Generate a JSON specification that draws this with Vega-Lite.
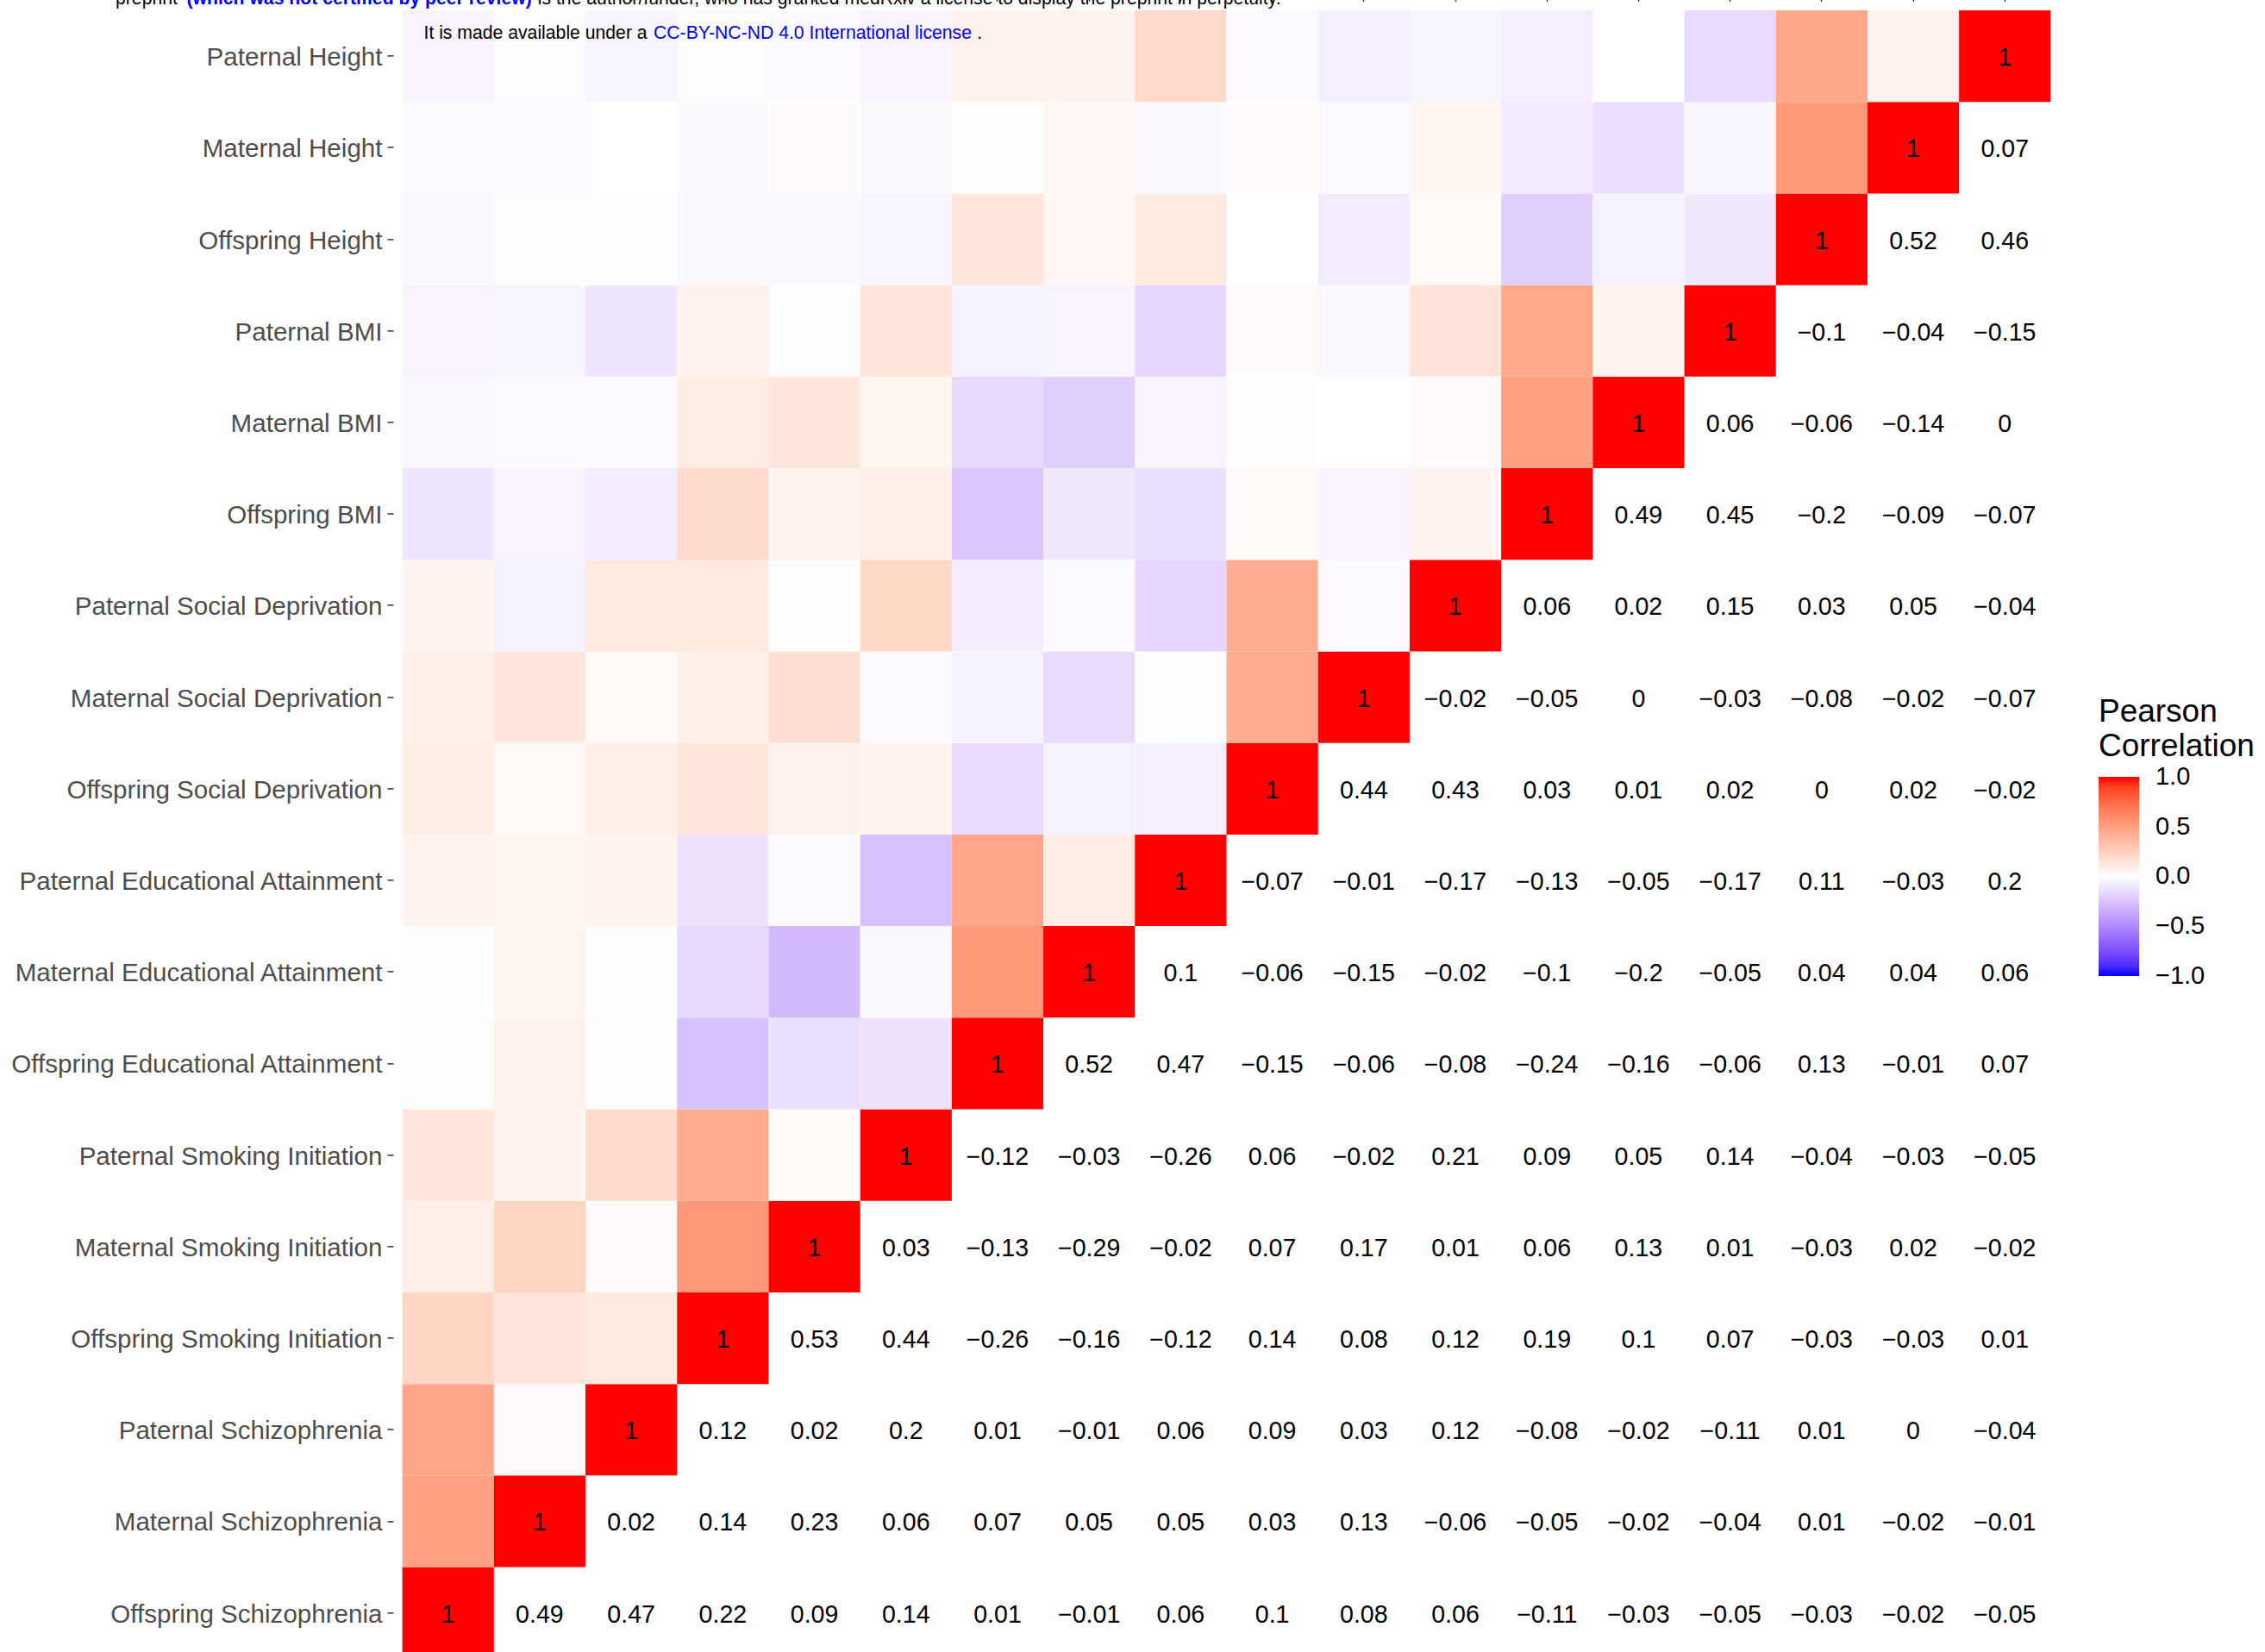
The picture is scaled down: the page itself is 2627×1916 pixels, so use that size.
{
  "$schema": "https://vega.github.io/schema/vega-lite/v6.json",
  "autosize": {"type": "none"},
  "width": 1933,
  "height": 1933,
  "padding": {"left": 456, "top": 1.4, "right": 238, "bottom": 0},
  "background": "white",
  "config": {"view": {"stroke": null}, "font": "Liberation Sans"},
  "title": {
    "text": "preprint \u00a0\u00a0\u00a0\u00a0\u00a0\u00a0\u00a0\u00a0\u00a0\u00a0\u00a0\u00a0\u00a0\u00a0\u00a0\u00a0\u00a0\u00a0\u00a0\u00a0\u00a0\u00a0\u00a0\u00a0\u00a0\u00a0\u00a0\u00a0\u00a0\u00a0\u00a0\u00a0\u00a0\u00a0\u00a0\u00a0\u00a0\u00a0\u00a0\u00a0\u00a0\u00a0\u00a0\u00a0\u00a0\u00a0\u00a0\u00a0\u00a0\u00a0\u00a0\u00a0\u00a0\u00a0\u00a0\u00a0\u00a0\u00a0\u00a0\u00a0\u00a0\u00a0\u00a0\u00a0\u00a0\u00a0\u00a0\u00a0\u00a0\u00a0is the author/funder, who has granted medRxiv a license to display the preprint in perpetuity.",
    "subtitle": "\u200b\u00a0\u00a0\u00a0\u00a0\u00a0\u00a0\u00a0\u00a0\u00a0\u00a0\u00a0\u00a0\u00a0\u00a0(which was not certified by peer review)",
    "anchor": "start",
    "frame": "group",
    "dx": -322,
    "dy": 16,
    "offset": 0,
    "font": "Liberation Sans",
    "fontSize": 21.2,
    "fontWeight": "normal",
    "color": "#000000",
    "subtitleFont": "Liberation Sans",
    "subtitleFontSize": 21.2,
    "subtitleFontWeight": "bold",
    "subtitleColor": "#0000FF",
    "subtitlePadding": -21.2
  },
  "data": {"values": [
    {"a": "Offspring Schizophrenia", "b": "Offspring Schizophrenia", "r": 1},
    {"a": "Offspring Schizophrenia", "b": "Maternal Schizophrenia", "r": 0.49},
    {"a": "Offspring Schizophrenia", "b": "Paternal Schizophrenia", "r": 0.47},
    {"a": "Offspring Schizophrenia", "b": "Offspring Smoking Initiation", "r": 0.22},
    {"a": "Offspring Schizophrenia", "b": "Maternal Smoking Initiation", "r": 0.09},
    {"a": "Offspring Schizophrenia", "b": "Paternal Smoking Initiation", "r": 0.14},
    {"a": "Offspring Schizophrenia", "b": "Offspring Educational Attainment", "r": 0.01},
    {"a": "Offspring Schizophrenia", "b": "Maternal Educational Attainment", "r": -0.01},
    {"a": "Offspring Schizophrenia", "b": "Paternal Educational Attainment", "r": 0.06},
    {"a": "Offspring Schizophrenia", "b": "Offspring Social Deprivation", "r": 0.1},
    {"a": "Offspring Schizophrenia", "b": "Maternal Social Deprivation", "r": 0.08},
    {"a": "Offspring Schizophrenia", "b": "Paternal Social Deprivation", "r": 0.06},
    {"a": "Offspring Schizophrenia", "b": "Offspring BMI", "r": -0.11},
    {"a": "Offspring Schizophrenia", "b": "Maternal BMI", "r": -0.03},
    {"a": "Offspring Schizophrenia", "b": "Paternal BMI", "r": -0.05},
    {"a": "Offspring Schizophrenia", "b": "Offspring Height", "r": -0.03},
    {"a": "Offspring Schizophrenia", "b": "Maternal Height", "r": -0.02},
    {"a": "Offspring Schizophrenia", "b": "Paternal Height", "r": -0.05},

    {"a": "Maternal Schizophrenia", "b": "Maternal Schizophrenia", "r": 1},
    {"a": "Maternal Schizophrenia", "b": "Paternal Schizophrenia", "r": 0.02},
    {"a": "Maternal Schizophrenia", "b": "Offspring Smoking Initiation", "r": 0.14},
    {"a": "Maternal Schizophrenia", "b": "Maternal Smoking Initiation", "r": 0.23},
    {"a": "Maternal Schizophrenia", "b": "Paternal Smoking Initiation", "r": 0.06},
    {"a": "Maternal Schizophrenia", "b": "Offspring Educational Attainment", "r": 0.07},
    {"a": "Maternal Schizophrenia", "b": "Maternal Educational Attainment", "r": 0.05},
    {"a": "Maternal Schizophrenia", "b": "Paternal Educational Attainment", "r": 0.05},
    {"a": "Maternal Schizophrenia", "b": "Offspring Social Deprivation", "r": 0.03},
    {"a": "Maternal Schizophrenia", "b": "Maternal Social Deprivation", "r": 0.13},
    {"a": "Maternal Schizophrenia", "b": "Paternal Social Deprivation", "r": -0.06},
    {"a": "Maternal Schizophrenia", "b": "Offspring BMI", "r": -0.05},
    {"a": "Maternal Schizophrenia", "b": "Maternal BMI", "r": -0.02},
    {"a": "Maternal Schizophrenia", "b": "Paternal BMI", "r": -0.04},
    {"a": "Maternal Schizophrenia", "b": "Offspring Height", "r": 0.01},
    {"a": "Maternal Schizophrenia", "b": "Maternal Height", "r": -0.02},
    {"a": "Maternal Schizophrenia", "b": "Paternal Height", "r": -0.01},

    {"a": "Paternal Schizophrenia", "b": "Paternal Schizophrenia", "r": 1},
    {"a": "Paternal Schizophrenia", "b": "Offspring Smoking Initiation", "r": 0.12},
    {"a": "Paternal Schizophrenia", "b": "Maternal Smoking Initiation", "r": 0.02},
    {"a": "Paternal Schizophrenia", "b": "Paternal Smoking Initiation", "r": 0.2},
    {"a": "Paternal Schizophrenia", "b": "Offspring Educational Attainment", "r": 0.01},
    {"a": "Paternal Schizophrenia", "b": "Maternal Educational Attainment", "r": -0.01},
    {"a": "Paternal Schizophrenia", "b": "Paternal Educational Attainment", "r": 0.06},
    {"a": "Paternal Schizophrenia", "b": "Offspring Social Deprivation", "r": 0.09},
    {"a": "Paternal Schizophrenia", "b": "Maternal Social Deprivation", "r": 0.03},
    {"a": "Paternal Schizophrenia", "b": "Paternal Social Deprivation", "r": 0.12},
    {"a": "Paternal Schizophrenia", "b": "Offspring BMI", "r": -0.08},
    {"a": "Paternal Schizophrenia", "b": "Maternal BMI", "r": -0.02},
    {"a": "Paternal Schizophrenia", "b": "Paternal BMI", "r": -0.11},
    {"a": "Paternal Schizophrenia", "b": "Offspring Height", "r": 0.01},
    {"a": "Paternal Schizophrenia", "b": "Maternal Height", "r": 0},
    {"a": "Paternal Schizophrenia", "b": "Paternal Height", "r": -0.04},

    {"a": "Offspring Smoking Initiation", "b": "Offspring Smoking Initiation", "r": 1},
    {"a": "Offspring Smoking Initiation", "b": "Maternal Smoking Initiation", "r": 0.53},
    {"a": "Offspring Smoking Initiation", "b": "Paternal Smoking Initiation", "r": 0.44},
    {"a": "Offspring Smoking Initiation", "b": "Offspring Educational Attainment", "r": -0.26},
    {"a": "Offspring Smoking Initiation", "b": "Maternal Educational Attainment", "r": -0.16},
    {"a": "Offspring Smoking Initiation", "b": "Paternal Educational Attainment", "r": -0.12},
    {"a": "Offspring Smoking Initiation", "b": "Offspring Social Deprivation", "r": 0.14},
    {"a": "Offspring Smoking Initiation", "b": "Maternal Social Deprivation", "r": 0.08},
    {"a": "Offspring Smoking Initiation", "b": "Paternal Social Deprivation", "r": 0.12},
    {"a": "Offspring Smoking Initiation", "b": "Offspring BMI", "r": 0.19},
    {"a": "Offspring Smoking Initiation", "b": "Maternal BMI", "r": 0.1},
    {"a": "Offspring Smoking Initiation", "b": "Paternal BMI", "r": 0.07},
    {"a": "Offspring Smoking Initiation", "b": "Offspring Height", "r": -0.03},
    {"a": "Offspring Smoking Initiation", "b": "Maternal Height", "r": -0.03},
    {"a": "Offspring Smoking Initiation", "b": "Paternal Height", "r": 0.01},

    {"a": "Maternal Smoking Initiation", "b": "Maternal Smoking Initiation", "r": 1},
    {"a": "Maternal Smoking Initiation", "b": "Paternal Smoking Initiation", "r": 0.03},
    {"a": "Maternal Smoking Initiation", "b": "Offspring Educational Attainment", "r": -0.13},
    {"a": "Maternal Smoking Initiation", "b": "Maternal Educational Attainment", "r": -0.29},
    {"a": "Maternal Smoking Initiation", "b": "Paternal Educational Attainment", "r": -0.02},
    {"a": "Maternal Smoking Initiation", "b": "Offspring Social Deprivation", "r": 0.07},
    {"a": "Maternal Smoking Initiation", "b": "Maternal Social Deprivation", "r": 0.17},
    {"a": "Maternal Smoking Initiation", "b": "Paternal Social Deprivation", "r": 0.01},
    {"a": "Maternal Smoking Initiation", "b": "Offspring BMI", "r": 0.06},
    {"a": "Maternal Smoking Initiation", "b": "Maternal BMI", "r": 0.13},
    {"a": "Maternal Smoking Initiation", "b": "Paternal BMI", "r": 0.01},
    {"a": "Maternal Smoking Initiation", "b": "Offspring Height", "r": -0.03},
    {"a": "Maternal Smoking Initiation", "b": "Maternal Height", "r": 0.02},
    {"a": "Maternal Smoking Initiation", "b": "Paternal Height", "r": -0.02},

    {"a": "Paternal Smoking Initiation", "b": "Paternal Smoking Initiation", "r": 1},
    {"a": "Paternal Smoking Initiation", "b": "Offspring Educational Attainment", "r": -0.12},
    {"a": "Paternal Smoking Initiation", "b": "Maternal Educational Attainment", "r": -0.03},
    {"a": "Paternal Smoking Initiation", "b": "Paternal Educational Attainment", "r": -0.26},
    {"a": "Paternal Smoking Initiation", "b": "Offspring Social Deprivation", "r": 0.06},
    {"a": "Paternal Smoking Initiation", "b": "Maternal Social Deprivation", "r": -0.02},
    {"a": "Paternal Smoking Initiation", "b": "Paternal Social Deprivation", "r": 0.21},
    {"a": "Paternal Smoking Initiation", "b": "Offspring BMI", "r": 0.09},
    {"a": "Paternal Smoking Initiation", "b": "Maternal BMI", "r": 0.05},
    {"a": "Paternal Smoking Initiation", "b": "Paternal BMI", "r": 0.14},
    {"a": "Paternal Smoking Initiation", "b": "Offspring Height", "r": -0.04},
    {"a": "Paternal Smoking Initiation", "b": "Maternal Height", "r": -0.03},
    {"a": "Paternal Smoking Initiation", "b": "Paternal Height", "r": -0.05},

    {"a": "Offspring Educational Attainment", "b": "Offspring Educational Attainment", "r": 1},
    {"a": "Offspring Educational Attainment", "b": "Maternal Educational Attainment", "r": 0.52},
    {"a": "Offspring Educational Attainment", "b": "Paternal Educational Attainment", "r": 0.47},
    {"a": "Offspring Educational Attainment", "b": "Offspring Social Deprivation", "r": -0.15},
    {"a": "Offspring Educational Attainment", "b": "Maternal Social Deprivation", "r": -0.06},
    {"a": "Offspring Educational Attainment", "b": "Paternal Social Deprivation", "r": -0.08},
    {"a": "Offspring Educational Attainment", "b": "Offspring BMI", "r": -0.24},
    {"a": "Offspring Educational Attainment", "b": "Maternal BMI", "r": -0.16},
    {"a": "Offspring Educational Attainment", "b": "Paternal BMI", "r": -0.06},
    {"a": "Offspring Educational Attainment", "b": "Offspring Height", "r": 0.13},
    {"a": "Offspring Educational Attainment", "b": "Maternal Height", "r": -0.01},
    {"a": "Offspring Educational Attainment", "b": "Paternal Height", "r": 0.07},

    {"a": "Maternal Educational Attainment", "b": "Maternal Educational Attainment", "r": 1},
    {"a": "Maternal Educational Attainment", "b": "Paternal Educational Attainment", "r": 0.1},
    {"a": "Maternal Educational Attainment", "b": "Offspring Social Deprivation", "r": -0.06},
    {"a": "Maternal Educational Attainment", "b": "Maternal Social Deprivation", "r": -0.15},
    {"a": "Maternal Educational Attainment", "b": "Paternal Social Deprivation", "r": -0.02},
    {"a": "Maternal Educational Attainment", "b": "Offspring BMI", "r": -0.1},
    {"a": "Maternal Educational Attainment", "b": "Maternal BMI", "r": -0.2},
    {"a": "Maternal Educational Attainment", "b": "Paternal BMI", "r": -0.05},
    {"a": "Maternal Educational Attainment", "b": "Offspring Height", "r": 0.04},
    {"a": "Maternal Educational Attainment", "b": "Maternal Height", "r": 0.04},
    {"a": "Maternal Educational Attainment", "b": "Paternal Height", "r": 0.06},

    {"a": "Paternal Educational Attainment", "b": "Paternal Educational Attainment", "r": 1},
    {"a": "Paternal Educational Attainment", "b": "Offspring Social Deprivation", "r": -0.07},
    {"a": "Paternal Educational Attainment", "b": "Maternal Social Deprivation", "r": -0.01},
    {"a": "Paternal Educational Attainment", "b": "Paternal Social Deprivation", "r": -0.17},
    {"a": "Paternal Educational Attainment", "b": "Offspring BMI", "r": -0.13},
    {"a": "Paternal Educational Attainment", "b": "Maternal BMI", "r": -0.05},
    {"a": "Paternal Educational Attainment", "b": "Paternal BMI", "r": -0.17},
    {"a": "Paternal Educational Attainment", "b": "Offspring Height", "r": 0.11},
    {"a": "Paternal Educational Attainment", "b": "Maternal Height", "r": -0.03},
    {"a": "Paternal Educational Attainment", "b": "Paternal Height", "r": 0.2},

    {"a": "Offspring Social Deprivation", "b": "Offspring Social Deprivation", "r": 1},
    {"a": "Offspring Social Deprivation", "b": "Maternal Social Deprivation", "r": 0.44},
    {"a": "Offspring Social Deprivation", "b": "Paternal Social Deprivation", "r": 0.43},
    {"a": "Offspring Social Deprivation", "b": "Offspring BMI", "r": 0.03},
    {"a": "Offspring Social Deprivation", "b": "Maternal BMI", "r": 0.01},
    {"a": "Offspring Social Deprivation", "b": "Paternal BMI", "r": 0.02},
    {"a": "Offspring Social Deprivation", "b": "Offspring Height", "r": 0},
    {"a": "Offspring Social Deprivation", "b": "Maternal Height", "r": 0.02},
    {"a": "Offspring Social Deprivation", "b": "Paternal Height", "r": -0.02},

    {"a": "Maternal Social Deprivation", "b": "Maternal Social Deprivation", "r": 1},
    {"a": "Maternal Social Deprivation", "b": "Paternal Social Deprivation", "r": -0.02},
    {"a": "Maternal Social Deprivation", "b": "Offspring BMI", "r": -0.05},
    {"a": "Maternal Social Deprivation", "b": "Maternal BMI", "r": 0},
    {"a": "Maternal Social Deprivation", "b": "Paternal BMI", "r": -0.03},
    {"a": "Maternal Social Deprivation", "b": "Offspring Height", "r": -0.08},
    {"a": "Maternal Social Deprivation", "b": "Maternal Height", "r": -0.02},
    {"a": "Maternal Social Deprivation", "b": "Paternal Height", "r": -0.07},

    {"a": "Paternal Social Deprivation", "b": "Paternal Social Deprivation", "r": 1},
    {"a": "Paternal Social Deprivation", "b": "Offspring BMI", "r": 0.06},
    {"a": "Paternal Social Deprivation", "b": "Maternal BMI", "r": 0.02},
    {"a": "Paternal Social Deprivation", "b": "Paternal BMI", "r": 0.15},
    {"a": "Paternal Social Deprivation", "b": "Offspring Height", "r": 0.03},
    {"a": "Paternal Social Deprivation", "b": "Maternal Height", "r": 0.05},
    {"a": "Paternal Social Deprivation", "b": "Paternal Height", "r": -0.04},

    {"a": "Offspring BMI", "b": "Offspring BMI", "r": 1},
    {"a": "Offspring BMI", "b": "Maternal BMI", "r": 0.49},
    {"a": "Offspring BMI", "b": "Paternal BMI", "r": 0.45},
    {"a": "Offspring BMI", "b": "Offspring Height", "r": -0.2},
    {"a": "Offspring BMI", "b": "Maternal Height", "r": -0.09},
    {"a": "Offspring BMI", "b": "Paternal Height", "r": -0.07},

    {"a": "Maternal BMI", "b": "Maternal BMI", "r": 1},
    {"a": "Maternal BMI", "b": "Paternal BMI", "r": 0.06},
    {"a": "Maternal BMI", "b": "Offspring Height", "r": -0.06},
    {"a": "Maternal BMI", "b": "Maternal Height", "r": -0.14},
    {"a": "Maternal BMI", "b": "Paternal Height", "r": 0},

    {"a": "Paternal BMI", "b": "Paternal BMI", "r": 1},
    {"a": "Paternal BMI", "b": "Offspring Height", "r": -0.1},
    {"a": "Paternal BMI", "b": "Maternal Height", "r": -0.04},
    {"a": "Paternal BMI", "b": "Paternal Height", "r": -0.15},

    {"a": "Offspring Height", "b": "Offspring Height", "r": 1},
    {"a": "Offspring Height", "b": "Maternal Height", "r": 0.52},
    {"a": "Offspring Height", "b": "Paternal Height", "r": 0.46},

    {"a": "Maternal Height", "b": "Maternal Height", "r": 1},
    {"a": "Maternal Height", "b": "Paternal Height", "r": 0.07},

    {"a": "Paternal Height", "b": "Paternal Height", "r": 1}
  ]},
  "layer": [
    {
      "mark": {"type": "rect"},
      "encoding": {
        "x": {
          "field": "a", "type": "nominal",
          "scale": {"domain": ["Offspring Schizophrenia", "Maternal Schizophrenia", "Paternal Schizophrenia", "Offspring Smoking Initiation", "Maternal Smoking Initiation", "Paternal Smoking Initiation", "Offspring Educational Attainment", "Maternal Educational Attainment", "Paternal Educational Attainment", "Offspring Social Deprivation", "Maternal Social Deprivation", "Paternal Social Deprivation", "Offspring BMI", "Maternal BMI", "Paternal BMI", "Offspring Height", "Maternal Height", "Paternal Height"], "paddingInner": 0, "paddingOuter": 0.1},
          "axis": {"orient": "top", "zindex": 1, "labels": false, "domain": false, "grid": false, "ticks": true, "tickSize": 7, "tickColor": "#333333", "tickWidth": 1.5,
                   "title": "It is made available under a\u00a0\u00a0\u00a0\u00a0\u00a0\u00a0\u00a0\u00a0\u00a0\u00a0\u00a0\u00a0\u00a0\u00a0\u00a0\u00a0\u00a0\u00a0\u00a0\u00a0\u00a0\u00a0\u00a0\u00a0\u00a0\u00a0\u00a0\u00a0\u00a0\u00a0\u00a0\u00a0\u00a0\u00a0\u00a0\u00a0\u00a0\u00a0\u00a0\u00a0\u00a0\u00a0\u00a0\u00a0\u00a0\u00a0\u00a0\u00a0\u00a0\u00a0\u00a0\u00a0\u00a0\u00a0\u00a0\u00a0\u00a0\u00a0\u00a0\u00a0\u00a0\u00a0\u00a0\u00a0\u00a0.",
                   "titleX": 35, "titleY": 43.6, "titleAlign": "left", "titleBaseline": "alphabetic", "titleAngle": 0, "titleFont": "Liberation Sans", "titleFontSize": 21.2, "titleFontWeight": "normal", "titleColor": "#000000"}
        },
        "y": {
          "field": "b", "type": "nominal",
          "scale": {"domain": ["Paternal Height", "Maternal Height", "Offspring Height", "Paternal BMI", "Maternal BMI", "Offspring BMI", "Paternal Social Deprivation", "Maternal Social Deprivation", "Offspring Social Deprivation", "Paternal Educational Attainment", "Maternal Educational Attainment", "Offspring Educational Attainment", "Paternal Smoking Initiation", "Maternal Smoking Initiation", "Offspring Smoking Initiation", "Paternal Schizophrenia", "Maternal Schizophrenia", "Offspring Schizophrenia"], "paddingInner": 0, "paddingOuter": 0.1},
          "axis": {"zindex": 1, "domain": false, "grid": false, "ticks": true, "tickSize": 7, "tickColor": "#333333", "tickWidth": 1.5, "labelPadding": 6, "labelOffset": 2, "labelFont": "Liberation Sans", "labelFontSize": 29.6, "labelColor": "#4D4D4D", "labelLimit": 0,
                   "title": "CC-BY-NC-ND 4.0 International license", "titleX": 301.5, "titleY": 43.6, "titleAlign": "left", "titleBaseline": "alphabetic", "titleAngle": 0, "titleFont": "Liberation Sans", "titleFontSize": 21.2, "titleFontWeight": "normal", "titleColor": "#0000FF"}
        },
        "color": {
          "field": "r", "type": "quantitative",
          "scale": {"domain": [-1, 0, 1], "range": ["#0000FF", "#FFFFFF", "#FF0000"], "interpolate": "lab"},
          "legend": {"orient": "none", "legendX": 1978, "legendY": 806.6, "direction": "vertical", "title": ["Pearson", "Correlation"], "titleFont": "Liberation Sans", "titleFontSize": 37, "titleFontWeight": "normal", "titleColor": "#000000", "titleLineHeight": 40, "titlePadding": 16, "titleLimit": 600, "gradientLength": 231, "gradientThickness": 47, "gradientStrokeWidth": 0, "values": [-1, -0.5, 0, 0.5, 1], "format": ".1f", "labelFont": "Liberation Sans", "labelFontSize": 29, "labelColor": "#000000", "labelOffset": 19, "labelBaseline": "middle", "labelOverlap": false,
                     "encode": {"labels": {"update": {"baseline": {"value": "middle"}}}}}
        }
      }
    },
    {
      "mark": {"type": "text", "font": "Liberation Sans", "fontSize": 28.6, "color": "#000000", "dy": 2},
      "encoding": {
        "x": {"field": "b", "type": "nominal", "scale": {"domain": ["Offspring Schizophrenia", "Maternal Schizophrenia", "Paternal Schizophrenia", "Offspring Smoking Initiation", "Maternal Smoking Initiation", "Paternal Smoking Initiation", "Offspring Educational Attainment", "Maternal Educational Attainment", "Paternal Educational Attainment", "Offspring Social Deprivation", "Maternal Social Deprivation", "Paternal Social Deprivation", "Offspring BMI", "Maternal BMI", "Paternal BMI", "Offspring Height", "Maternal Height", "Paternal Height"], "paddingInner": 0, "paddingOuter": 0.1}},
        "y": {"field": "a", "type": "nominal", "scale": {"domain": ["Paternal Height", "Maternal Height", "Offspring Height", "Paternal BMI", "Maternal BMI", "Offspring BMI", "Paternal Social Deprivation", "Maternal Social Deprivation", "Offspring Social Deprivation", "Paternal Educational Attainment", "Maternal Educational Attainment", "Offspring Educational Attainment", "Paternal Smoking Initiation", "Maternal Smoking Initiation", "Offspring Smoking Initiation", "Paternal Schizophrenia", "Maternal Schizophrenia", "Offspring Schizophrenia"], "paddingInner": 0, "paddingOuter": 0.1}},
        "text": {"field": "r", "type": "quantitative", "format": ".2~f"}
      }
    }
  ]
}
